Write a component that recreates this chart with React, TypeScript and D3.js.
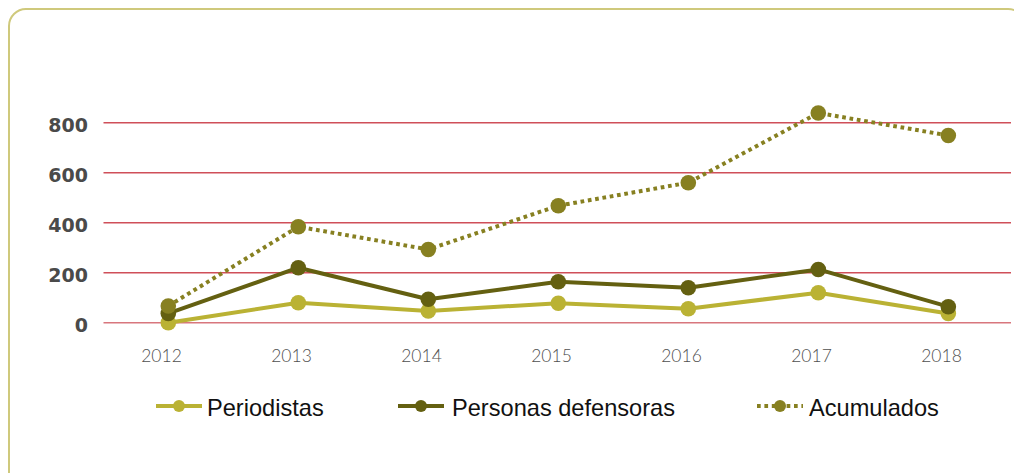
import React from "react";
import * as d3 from "d3";

const years = ["2012", "2013", "2014", "2015", "2016", "2017", "2018"];
const periodistas = [0, 80, 47, 78, 56, 120, 37];
const defensoras = [37, 220, 94, 164, 140, 213, 64];
const acumulados = [67, 384, 293, 468, 560, 839, 749];
const yTicks = [0, 200, 400, 600, 800];

const seriesList = [
  { name: "Periodistas", values: periodistas, color: "#bab234", dashed: false },
  { name: "Personas defensoras", values: defensoras, color: "#646011", dashed: false },
  { name: "Acumulados", values: acumulados, color: "#878021", dashed: true },
];

const W = 1014;
const H = 473;

export default function App() {
  const x = d3.scalePoint<string>().domain(years).range([168.3, 948.3]);
  const y = d3.scaleLinear().domain([0, 800]).range([322.7, 122.7]);
  const line = d3
    .line<number>()
    .x((_, i) => x(years[i]) as number)
    .y((d) => y(d));

  const legendItems = [
    { lineX: 156, textX: 207, series: seriesList[0] },
    { lineX: 398, textX: 452, series: seriesList[1] },
    { lineX: 757, textX: 809, series: seriesList[2] },
  ];

  return (
    <svg
      width={W}
      height={H}
      style={{ position: "absolute", left: 0, top: 0, background: "#fff" }}
    >
      <rect x={9} y={9} width={1016} height={520} rx={17} ry={17} fill="none" stroke="#cfc97c" strokeWidth={2} />
      {yTicks.map((t) => (
        <g key={t}>
          <line
            x1={103.5}
            x2={1011}
            y1={y(t)}
            y2={y(t)}
            stroke={t === 0 ? "#d8767d" : "#cf4f59"}
            strokeWidth={1.4}
          />
          <text
            x={88}
            y={y(t) + 9.5}
            textAnchor="end"
            fontFamily="DejaVu Sans"
            fontWeight="bold"
            fontSize={19}
            fill="#4a4a4a"
          >
            {t}
          </text>
        </g>
      ))}
      {years.map((yr) => (
        <text
          key={yr}
          x={(x(yr) as number) - 6.8}
          y={362}
          textAnchor="middle"
          fontFamily="Lato"
          fontWeight={300}
          fontSize={17.5}
          fill="#505050"
        >
          {yr}
        </text>
      ))}
      {seriesList.map((s) => (
        <g key={s.name}>
          <path
            d={line(s.values) as string}
            fill="none"
            stroke={s.color}
            strokeWidth={4}
            strokeDasharray={s.dashed ? "3.7 3.7" : undefined}
            strokeLinejoin="round"
          />
          {s.values.map((v, i) => (
            <circle key={i} cx={x(years[i]) as number} cy={y(v)} r={7.8} fill={s.color} />
          ))}
        </g>
      ))}
      {legendItems.map((it) => (
        <g key={it.series.name}>
          <line
            x1={it.lineX}
            x2={it.lineX + 46}
            y1={406}
            y2={406}
            stroke={it.series.color}
            strokeWidth={4}
            strokeDasharray={it.series.dashed ? "3.7 3.7" : undefined}
          />
          <circle cx={it.lineX + 23} cy={406} r={6} fill={it.series.color} />
          <text x={it.textX} y={416} fontFamily="Liberation Sans" fontSize={23.6} fill="#111">
            {it.series.name}
          </text>
        </g>
      ))}
    </svg>
  );
}
